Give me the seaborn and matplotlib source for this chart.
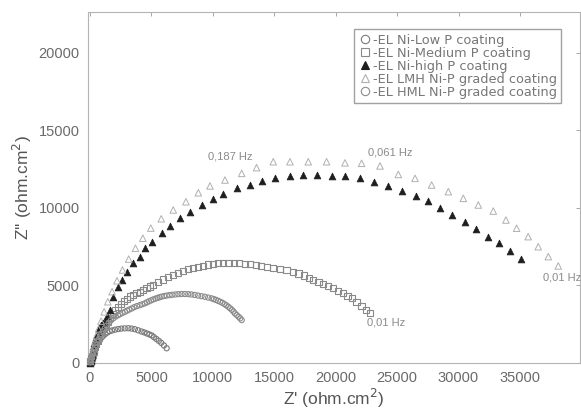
import matplotlib
matplotlib.use("Agg")
import matplotlib.pyplot as plt
import seaborn as sns
import pandas as pd
from matplotlib.lines import Line2D

# Nyquist data, Z' and Z'' in ohm.cm^2
low_p_x = [10, 20, 30, 50, 80, 110, 150, 190, 240, 290, 350, 420, 500, 600, 700, 820,
           950, 1100, 1250, 1420, 1600, 1800, 2040, 2300, 2550, 2830, 3120, 3380,
           3650, 3920, 4200, 4430, 4650, 4840, 5020, 5200, 5400, 5600, 5800, 6020,
           6240]
low_p_y = [30, 55, 80, 130, 200, 280, 380, 480, 600, 720, 850, 970, 1100, 1250, 1400,
           1530, 1650, 1770, 1880, 1970, 2050, 2100, 2150, 2190, 2220, 2235, 2240,
           2220, 2180, 2110, 2030, 1970, 1900, 1840, 1780, 1670, 1550, 1430, 1300,
           1130, 950]

med_p_x = [20, 50, 80, 120, 170, 220, 280, 350, 430, 520, 630, 750, 870, 1000, 1150,
           1300, 1470, 1650, 1850, 2050, 2270, 2500, 2750, 3000, 3250, 3500, 3780,
           4070, 4330, 4600, 4870, 5150, 5550, 5950, 6360, 6780, 7190, 7600, 8000,
           8390, 8800, 9200, 9600, 10000, 10420, 10830, 11270, 11700, 12150, 12600,
           13050, 13500, 13940, 14380, 14900, 15450, 16000, 16550, 16980, 17400,
           17800, 18180, 18600, 19000, 19400, 19810, 20220, 20620, 20960, 21300,
           21700, 22110, 22450, 22790]
med_p_y = [50, 120, 200, 300, 420, 550, 700, 850, 1020, 1200, 1400, 1600, 1800, 2000,
           2220, 2450, 2680, 2900, 3150, 3400, 3600, 3800, 3980, 4150, 4290, 4400,
           4500, 4600, 4710, 4820, 4930, 5030, 5210, 5380, 5530, 5680, 5820, 5950,
           6050, 6130, 6210, 6280, 6350, 6400, 6430, 6450, 6450, 6450, 6430, 6400,
           6360, 6320, 6270, 6210, 6140, 6060, 5980, 5890, 5770, 5650, 5500, 5350,
           5230, 5100, 4960, 4820, 4660, 4490, 4330, 4170, 3930, 3680, 3440, 3200]

high_p_x = [10, 20, 30, 45, 60, 80, 100, 125, 150, 185, 220, 260, 300, 360, 420,
            490, 550, 620, 700, 800, 900, 1050, 1220, 1420, 1630, 1880, 2310,
            2580, 2990, 3530, 4070, 4480, 5020, 5830, 6510, 7330, 8140, 9090,
            10020, 10850, 11940, 13020, 13970, 15060, 16280, 17360, 18450, 19670,
            20760, 21980, 23120, 24290, 25430, 26510, 27540, 28490, 29440, 30530,
            31420, 32420, 33320, 34190, 35060]
high_p_y = [30, 55, 80, 130, 200, 280, 380, 480, 600, 720, 850, 1000, 1150, 1320,
            1500, 1680, 1850, 2020, 2200, 2350, 2450, 2550, 2660, 3050, 3420, 4280,
            4920, 5350, 5890, 6430, 6860, 7400, 7830, 8360, 8840, 9330, 9760,
            10190, 10570, 10900, 11270, 11480, 11740, 11910, 12060, 12130, 12130,
            12080, 12060, 11910, 11700, 11440, 11120, 10740, 10450, 9980, 9550,
            9120, 8620, 8150, 7720, 7220, 6690]

lmh_x = [40, 80, 130, 200, 290, 400, 530, 700, 900, 1150, 1450, 1800, 2200, 2650,
         3150, 3700, 4300, 4950, 5800, 6780, 7810, 8820, 9770, 10990, 12350,
         13560, 14920, 16280, 17770, 19260, 20760, 22110, 23610, 25100, 26460,
         27810, 29170, 30390, 31610, 32830, 33860, 34730, 35670, 36490, 37310,
         38120]
lmh_y = [100, 250, 450, 700, 1000, 1350, 1750, 2200, 2700, 3300, 3950, 4600, 5300,
         6000, 6700, 7400, 8050, 8700, 9300, 9870, 10400, 10980, 11420, 11800,
         12230, 12600, 12980, 12980, 12980, 12980, 12910, 12880, 12710, 12160,
         11910, 11480, 11050, 10620, 10190, 9800, 9220, 8690, 8150, 7500, 6860,
         6260]

hml_x = [15, 40, 70, 100, 140, 180, 230, 290, 360, 430, 510, 600, 700, 800, 920,
         1050, 1200, 1350, 1520, 1700, 1900, 2100, 2280, 2450, 2650, 2850, 3030,
         3200, 3400, 3600, 3820, 4050, 4260, 4480, 4640, 4800, 4980, 5150, 5330,
         5500, 5660, 5830, 6040, 6250, 6480, 6700, 6950, 7200, 7460, 7730, 8000,
         8250, 8520, 8800, 9080, 9350, 9620, 9900, 10080, 10250, 10420, 10600,
         10780, 10950, 11100, 11260, 11400, 11550, 11680, 11800, 11950, 12100,
         12230, 12350]
hml_y = [40, 100, 170, 250, 350, 450, 570, 700, 850, 1000, 1170, 1350, 1520, 1700,
         1870, 2050, 2230, 2400, 2580, 2750, 2880, 3000, 3080, 3150, 3230, 3300,
         3380, 3450, 3520, 3600, 3670, 3730, 3790, 3850, 3920, 3980, 4040, 4100,
         4150, 4200, 4240, 4280, 4320, 4350, 4380, 4400, 4420, 4440, 4450, 4450,
         4440, 4420, 4390, 4350, 4310, 4270, 4220, 4170, 4120, 4070, 4010, 3950,
         3880, 3800, 3720, 3630, 3530, 3430, 3320, 3200, 3090, 2980, 2880,
         2770]

labels = ["-EL Ni-Low P coating", "-EL Ni-Medium P coating", "-EL Ni-high P coating",
          "-EL LMH Ni-P graded coating", "-EL HML Ni-P graded coating"]

freq_text = ["0,187 Hz", "0,061 Hz", "0,01 Hz", "0,01 Hz"]
freq_x = [9600, 22630, 22550, 36870]
freq_y = [13300, 13600, 2600, 5500]

sns.set_style("white")
plt.rcParams["font.family"] = ["Liberation Sans", "DejaVu Sans"]

fig = plt.figure(figsize=(5.81, 4.18), dpi=100)
ax = fig.add_axes([0.1515, 0.1316, 0.847, 0.8397])

styles = [
    dict(marker="o", s=14, facecolor="none", edgecolor="#7a7a7a", linewidth=0.8),
    dict(marker="s", s=20, facecolor="none", edgecolor="#8a8a8a", linewidth=0.8),
    dict(marker="^", s=24, facecolor="#1e1e1e", edgecolor="#1e1e1e", linewidth=0.5),
    dict(marker="^", s=22, facecolor="none", edgecolor="#b0b0b0", linewidth=0.7),
    dict(marker="o", s=14, facecolor="none", edgecolor="#8c8c8c", linewidth=0.8),
]
series = [(low_p_x, low_p_y), (med_p_x, med_p_y), (high_p_x, high_p_y),
          (lmh_x, lmh_y), (hml_x, hml_y)]
order = [4, 0, 1, 3, 2]
for i in order:
    xs, ys = series[i]
    df = pd.DataFrame({"Zre": xs, "Zim": ys})
    st = styles[i]
    sns.scatterplot(data=df, x="Zre", y="Zim", ax=ax, marker=st["marker"], s=st["s"],
                    facecolor=st["facecolor"], edgecolor=st["edgecolor"],
                    linewidth=st["linewidth"], zorder=3 + i, clip_on=False)

for t, fx, fy in zip(freq_text, freq_x, freq_y):
    ax.text(fx, fy, t, fontsize=8, color="#8a8a8a", ha="left", va="center")

ax.set_xlim(-160, 39900)
ax.set_ylim(0, 22640)
ax.set_xticks([0, 5000, 10000, 15000, 20000, 25000, 30000, 35000])
ax.set_yticks([0, 5000, 10000, 15000, 20000])
ax.tick_params(direction="in", top=True, right=True, length=3, width=0.6,
               color="#9a9a9a", labelsize=10.5, labelcolor="#6a6a6a", pad=6)
for sp in ax.spines.values():
    sp.set_color("#b4b4b4")
    sp.set_linewidth(0.8)
    sp.set_linestyle((0, (1, 1)))

ax.set_xlabel("Z' (ohm.cm$^2$)", fontsize=12.5, color="#555555", labelpad=1)
ax.set_ylabel("Z'' (ohm.cm$^2$)", fontsize=12.5, color="#555555", labelpad=3)

handles = []
for i in range(5):
    st = styles[i]
    handles.append(Line2D([], [], linestyle="none", marker=st["marker"], markersize=6,
                          markerfacecolor=st["facecolor"], markeredgecolor=st["edgecolor"],
                          markeredgewidth=0.8))
leg = ax.legend(handles, labels, loc="upper right", bbox_to_anchor=(0.975, 0.97),
                prop={"family": "DejaVu Sans", "size": 9.3}, frameon=True,
                fancybox=False, handlelength=1.0, handletextpad=0.1,
                labelspacing=0.0, borderpad=0.35, labelcolor="#777777")
leg.get_frame().set_edgecolor("#8a8a8a")
leg.get_frame().set_linewidth(1.0)

fig.savefig("out.png", dpi=100)
